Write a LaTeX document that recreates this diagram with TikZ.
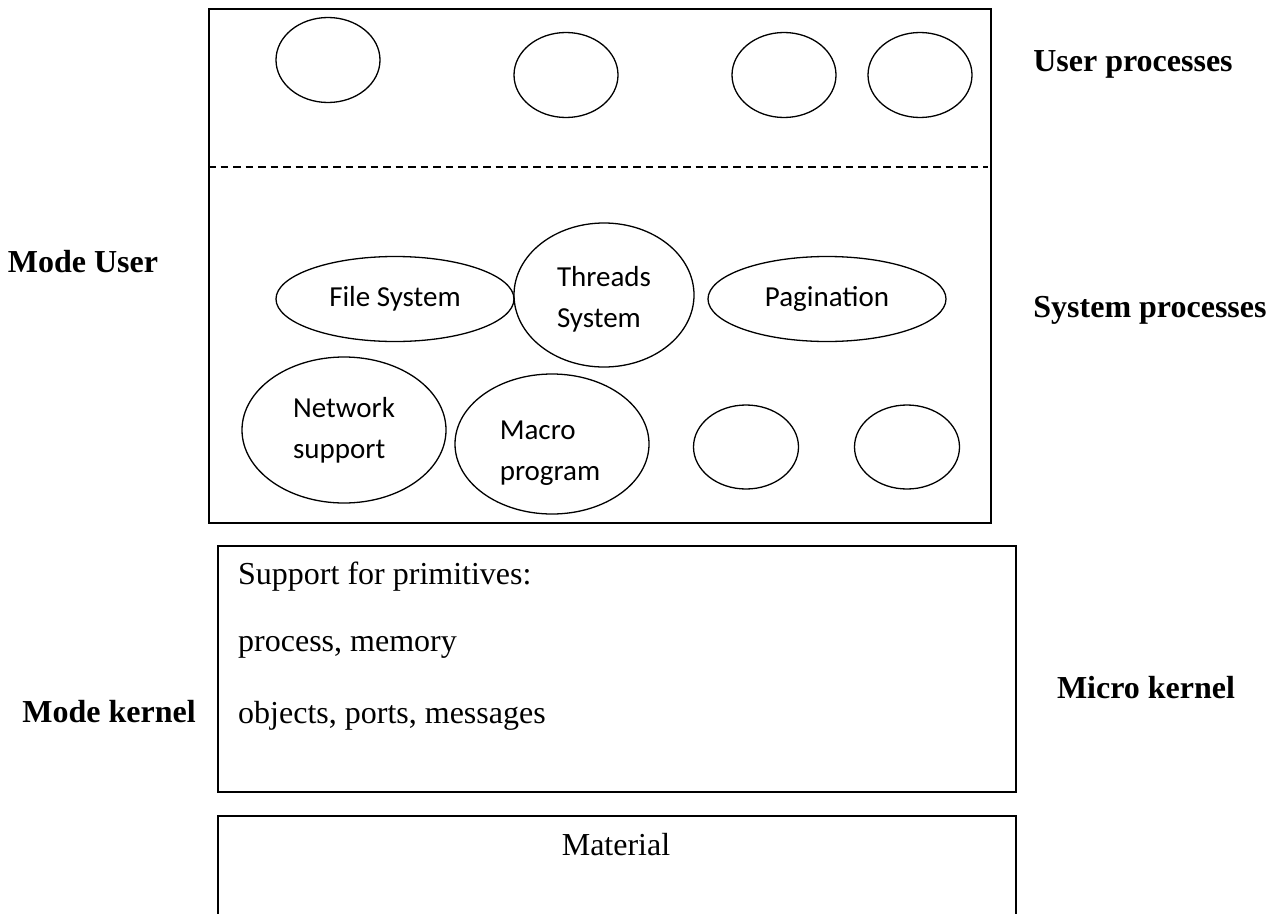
\documentclass[tikz,border=0pt]{standalone}
\usepackage{fontspec}
\setmainfont{Liberation Serif}
\newfontfamily\calib{Carlito}
\usetikzlibrary{shapes.geometric}
\begin{document}
\begin{tikzpicture}[x=1pt,y=-1pt,
  frame/.style={draw, line width=1.7pt, rectangle, inner sep=0pt, anchor=north west},
  proc/.style={draw, ellipse, line width=1.3pt, inner sep=0pt,
    font=\calib\fontsize{29}{41}\selectfont, align=left},
  proctext/.style={inner sep=0pt, font=\calib\fontsize{29}{41}\selectfont, align=left},
  side/.style={font=\bfseries\fontsize{32}{38}\selectfont, inner sep=0pt},
  body/.style={font=\fontsize{32}{38}\selectfont, anchor=west, inner sep=0pt}]
\clip (0,0) rectangle (1281,913);

% user-mode frame with the separator between user and system processes
\node[frame, minimum width=782, minimum height=514] (user) at (208,8) {};
\coordinate (sepl) at (208,167);
\coordinate (sepr) at (988,167);
\draw[line width=1.2pt, dash pattern=on 7.5pt off 5pt] (sepl) -- (sepr);

% user processes
\node[proc, minimum width=104, minimum height=85] (u1) at (328,60) {};
\node[proc, minimum width=104, minimum height=85] (u2) at (566,75) {};
\node[proc, minimum width=104, minimum height=85] (u3) at (784,75) {};
\node[proc, minimum width=104, minimum height=85] (u4) at (920,75) {};

% system processes
\node[proc, minimum width=238, minimum height=85] (fs) at (395,299) {File System};
\node[proc, minimum width=180, minimum height=144] (th) at (604,295) {};
\node[proctext] (tht) at (604,299) {Threads\\System};
\node[proc, minimum width=238, minimum height=85] (pg) at (827,299) {Pagination};
\node[proc, minimum width=204, minimum height=146] (net) at (344,430) {Network\\support};
\node[proc, minimum width=194, minimum height=140] (mac) at (552,444) {};
\node[proctext] (mact) at (550,453) {Macro\\program};
\node[proc, minimum width=105, minimum height=84] (s1) at (746,447) {};
\node[proc, minimum width=105, minimum height=84] (s2) at (907,447) {};

% micro kernel
\node[frame, minimum width=798, minimum height=246] (kern) at (217,545) {};
\node[body] (k1) at (238,577) {Support for primitives:};
\node[body] (k2) at (238,647) {process, memory};
\node[body] (k3) at (238,716) {objects, ports, messages};

% hardware layer, running off the bottom edge
\node[frame, minimum width=798, minimum height=200] (hw) at (217,815) {};
\node[font=\fontsize{32}{38}\selectfont, inner sep=0pt] (hwt) at (616,845) {Material};

% side labels
\node[side] (mu) at (83,262) {Mode User};
\node[side] (mk) at (109,712) {Mode kernel};
\node[side] (up) at (1133,64) {User processes};
\node[side] (sp) at (1150,310) {System processes};
\node[side] (mck) at (1146,688) {Micro kernel};
\end{tikzpicture}
\end{document}
